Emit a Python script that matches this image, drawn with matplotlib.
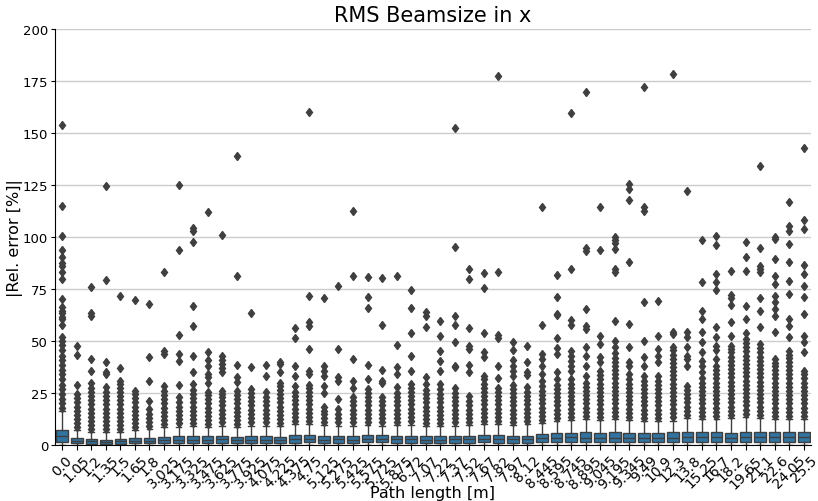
import matplotlib
matplotlib.use('Agg')
import matplotlib.pyplot as plt

# Path length categories (x axis)
categories = ['0.0', '1.05', '1.2', '1.35', '1.5', '1.65', '1.8', '3.025', '3.175',
              '3.325', '3.475', '3.625', '3.775', '3.925', '4.075', '4.225', '4.375',
              '4.75', '5.125', '5.275', '5.425', '5.575', '5.725', '5.875', '6.72',
              '7.07', '7.22', '7.37', '7.52', '7.67', '7.82', '7.97', '8.12', '8.445',
              '8.595', '8.745', '8.895', '9.045', '9.195', '9.345', '9.49', '10.9',
              '12.3', '13.8', '15.25', '16.7', '18.2', '19.65', '21.1', '22.6',
              '24.05', '25.5']

# Box statistics
whislo = [0.0, 0.0, 0.0, 0.0, 0.0, 0.0, 0.0, 0.0, 0.0, 0.0, 0.0, 0.0, 0.0,
          0.0, 0.0, 0.0, 0.0, 0.0, 0.0, 0.0, 0.0, 0.0, 0.0, 0.0, 0.0, 0.0,
          0.0, 0.0, 0.0, 0.0, 0.0, 0.0, 0.0, 0.0, 0.0, 0.0, 0.0, 0.0, 0.0,
          0.0, 0.0, 0.0, 0.0, 0.0, 0.0, 0.0, 0.0, 0.0, 0.0, 0.0, 0.0, 0.0]
q1 = [1.6, 0.8, 0.7, 0.3, 0.6, 0.8, 0.8, 0.9, 1.0, 1.0, 1.0, 1.1, 1.0,
      1.0, 1.0, 1.0, 1.1, 1.2, 1.0, 1.1, 1.0, 1.2, 1.2, 1.1, 1.1, 1.0,
      1.0, 1.1, 1.1, 1.2, 1.1, 1.1, 1.1, 1.3, 1.5, 1.5, 1.5, 1.5, 1.5,
      1.4, 1.4, 1.4, 1.5, 1.6, 1.5, 1.6, 1.4, 1.6, 1.5, 1.6, 1.5, 1.5]
med = [4.1, 2.0, 1.8, 1.5, 1.7, 2.0, 2.1, 2.4, 2.6, 2.6, 2.6, 2.8, 2.5,
       2.6, 2.6, 2.5, 2.8, 3.0, 2.6, 2.7, 2.6, 3.0, 3.1, 2.8, 2.8, 2.6,
       2.6, 2.8, 2.8, 3.0, 2.9, 2.8, 2.8, 3.2, 3.5, 3.6, 3.5, 3.4, 3.5,
       3.4, 3.3, 3.3, 3.5, 3.7, 3.6, 3.8, 3.2, 3.8, 3.6, 3.7, 3.6, 3.6]
q3 = [7.3, 3.3, 2.9, 2.5, 2.8, 3.3, 3.4, 3.8, 4.1, 4.1, 4.1, 4.5, 3.9,
      4.2, 4.2, 4.0, 4.6, 4.8, 4.3, 4.4, 4.2, 4.8, 4.9, 4.4, 4.5, 4.2,
      4.2, 4.5, 4.5, 4.8, 4.6, 4.5, 4.5, 5.2, 5.7, 5.8, 6.1, 5.7, 6.0,
      5.8, 5.6, 5.6, 6.0, 6.2, 6.1, 6.3, 5.8, 6.4, 6.1, 6.1, 6.1, 6.1]
whishi = [16.5, 7.3, 6.1, 6.0, 6.2, 7.3, 7.7, 8.5, 8.8, 9.0, 8.5, 9.3, 8.5,
          9.3, 9.3, 9.0, 10.0, 10.0, 9.6, 9.3, 9.3, 9.6, 9.3, 9.6, 9.8, 9.0,
          9.0, 9.3, 9.6, 10.0, 10.0, 9.6, 10.0, 10.6, 11.4, 12.0, 12.5, 11.8, 12.5,
          12.0, 11.4, 11.7, 11.7, 12.8, 12.5, 12.5, 12.8, 13.3, 12.8, 12.5, 12.5, 12.5]

# Outliers per category
fliers = [
    [18, 20, 22, 24.5, 27, 29, 31.5, 34, 36, 38.5, 41, 43, 45.5, 48, 50, 52, 57.7,
     60.6, 61.7, 63.3, 64.6, 66.2, 70, 79.8, 83, 86.2, 87.5, 90.2, 93.9, 100.3, 115, 154],
    [8.5, 10.5, 12.5, 14.5, 16.5, 18.5, 20.5, 22.5, 24.5, 29, 43.2, 47.4],
    [7.5, 9.5, 11.5, 13.5, 15.5, 17.5, 19.5, 21.5, 23.5, 25.5, 27.5, 30, 35.7, 41.3,
     62.2, 63.4, 76.1],
    [7.5, 9.5, 11.5, 13.5, 15.5, 17.5, 19.5, 21.5, 23.5, 25.5, 27.7, 34.1, 35, 39.7,
     79.3, 124.4],
    [7.5, 9.5, 11.5, 13.5, 15.5, 17.5, 19.5, 21.5, 23.5, 25.5, 27.5, 29.5, 31, 36.8, 71.8],
    [8.5, 10.5, 12.5, 14.5, 16.5, 18.5, 20.5, 22.5, 24.5, 26, 69.7],
    [9, 11, 13, 15, 17.5, 21.3, 31, 42.1, 67.8],
    [10, 12, 14, 16, 18, 20, 22, 24, 26, 28.5, 43.7, 45.3, 83],
    [10.5, 12.5, 14.5, 16.5, 18.5, 20.5, 23, 29, 40.5, 43.7, 52.9, 93.7, 125],
    [10.5, 12.5, 14.5, 16.5, 18.5, 20.5, 22.5, 24.5, 26.5, 29.3, 35.2, 42.6, 57.3, 67,
     97.4, 103, 104.2],
    [10, 12, 14, 16, 18, 20, 22, 24, 25.3, 29.6, 32.5, 34.1, 38.1, 41, 44.5, 112],
    [11, 13, 15, 17, 19, 21, 23, 24.5, 26.1, 35.2, 36.8, 38.9, 40.9, 42.6, 101],
    [10, 12, 14, 16, 18, 20, 22, 24, 26.1, 30.1, 32.5, 38.4, 81.4, 139],
    [11, 13, 15, 17, 19, 21, 23, 25, 26.9, 37.6, 63.4],
    [11, 13, 15, 17, 19, 21, 23, 25.3, 33.3, 38.6],
    [10.5, 12.5, 14.5, 16.5, 18.5, 20.5, 22.5, 24.5, 26.5, 28.5, 30, 35.2, 38.9, 39.7],
    [11.5, 13.5, 15.5, 17.5, 19.5, 21.5, 23.5, 25.5, 28.5, 33.3, 38.1, 51.4, 56.1],
    [11.5, 13.5, 15.5, 17.5, 19.5, 21.5, 23.5, 25.5, 27.5, 29, 34.1, 35.7, 46.1, 57.3,
     59, 71.5, 160],
    [11, 13, 15, 16.5, 18.1, 25, 28.5, 33.3, 35.7, 38.1, 70.5],
    [11, 13, 15, 17.3, 22.1, 31, 32.5, 46.1, 76.6],
    [11, 13, 15, 17, 19, 21, 22.9, 27.2, 31, 41.3, 81.4, 112.7],
    [11, 13, 15, 17, 19, 21, 23, 25, 26.9, 31.7, 38.4, 65.7, 71, 80.6],
    [11, 13, 15, 17, 19, 21, 22.9, 29.6, 31, 36.2, 57.7, 80.1],
    [11, 13, 15, 17, 19, 21, 23, 25, 27.7, 34.1, 37.3, 48, 81.4],
    [11.5, 13.5, 15.5, 17.5, 19.5, 21.5, 23.5, 25.5, 27.5, 29.5, 35.7, 42.6, 53.7,
     65.7, 74.5],
    [10.5, 12.5, 14.5, 16.5, 18.5, 20.5, 22.5, 24.5, 26.5, 29.3, 32.5, 56.6, 61.8, 63.8],
    [10.5, 12.5, 14.5, 16.5, 18.5, 20.5, 22.5, 24.5, 26.9, 29.3, 35.7, 40.5, 45.3,
     52.2, 59.8],
    [11, 13, 15, 17, 19, 21, 23, 25, 27.5, 37.6, 38.2, 49.3, 57.8, 61.8, 95.3, 152.4],
    [11, 13, 15, 17, 19, 21, 23.7, 35, 38.6, 46.1, 47.4, 56.2, 79.8, 84.6],
    [11.5, 13.5, 15.5, 17.5, 19.5, 21.5, 23.5, 25.5, 27.5, 29.5, 31.5, 33.3, 42.1,
     44.5, 53.8, 75.3, 82.7],
    [11.5, 13.5, 15.5, 17.5, 19.5, 21.5, 23.5, 25.5, 27.5, 32, 38.1, 51.4, 53, 83.3,
     177.4],
    [11, 13, 15, 17, 19, 21, 23, 25, 27, 29, 33.3, 35.7, 38.1, 41, 45.8, 49.3],
    [11.5, 13.5, 15.5, 17.5, 19.5, 21.5, 23.5, 25.5, 28, 33.6, 35, 39.7, 47.4],
    [12, 14, 16, 18, 20, 22, 24, 26, 28.5, 31, 34.1, 38.1, 41.3, 43.7, 57.7, 114.3],
    [13, 15, 17, 19, 21, 23, 25, 27, 29, 31.7, 35, 43.7, 46.5, 51.4, 62.5, 63.2,
     71.3, 81.9],
    [13.5, 15.5, 17.5, 19.5, 21.5, 23.5, 25.5, 27.5, 29.5, 31.5, 35.7, 38, 40.5, 43,
     45.3, 57.7, 60.2, 84.6, 159.6],
    [14, 16, 18, 20, 22, 24, 26, 28, 30, 33.3, 38.1, 42.9, 46.9, 55.8, 57, 65.4,
     93.4, 94.5, 169.6],
    [13.5, 15.5, 17.5, 19.5, 21.5, 23.5, 25.5, 27.5, 29.5, 31.5, 33.5, 35.5, 39.7,
     42.1, 48.5, 52.2, 93.9, 114.3],
    [14, 16, 18, 20, 22, 24, 26, 28, 30, 32, 34, 36, 38, 40, 42, 44, 47, 50, 59.8,
     83, 84.6, 94, 97, 98.7, 99.8],
    [13.5, 15.5, 17.5, 19.5, 21.5, 23.5, 25.5, 27.5, 29.5, 31.5, 34.1, 38.1, 39.7,
     46.9, 58.2, 87.8, 117.8, 122.9, 125.5],
    [13, 15, 17, 19, 21, 23, 25, 27, 29, 31, 33.3, 38.1, 42.1, 50.1, 68.6, 112.7,
     114.3, 172],
    [13, 15, 17, 19, 21, 23, 25, 27, 29, 31, 33.3, 39.7, 42.9, 46.1, 52.5, 69.4],
    [13.5, 15.5, 17.5, 19.5, 21.5, 23.5, 25.5, 27.5, 29.5, 31.5, 33.5, 35.5, 37.5,
     39.5, 41.5, 43.5, 45.5, 46.9, 53.3, 54.5, 178.4],
    [14.5, 16.5, 18.5, 20.5, 22.5, 24.5, 26.5, 28.5, 38.1, 41.3, 43, 46.9, 51.7,
     54.1, 122],
    [14, 16, 18, 20, 22, 24, 26, 28, 30, 32, 35, 38, 40.5, 44.9, 49.3, 54.1, 60.6,
     64.6, 78.2, 98.7],
    [14, 16, 18, 20, 22, 24, 26, 28, 30, 32, 34, 36, 38.1, 41.5, 45.8, 47.7, 51.7,
     56.9, 74.5, 78.2, 82.2, 96.3, 100.6],
    [14.5, 16.5, 18.5, 20.5, 22.5, 24.5, 26.5, 28.5, 30.5, 32.5, 34.5, 36.5, 38.5,
     40.5, 42.5, 44.5, 46, 47.7, 52.5, 59.3, 67.3, 70.5, 72.1, 83.8],
    [15, 17, 19, 21, 23, 25, 27, 29, 31, 33, 35, 37, 39, 41, 43, 45, 47, 49, 51,
     53.7, 60.6, 67, 83.8, 90.5, 97.4],
    [14.5, 16.5, 18.5, 20.5, 22.5, 24.5, 26.5, 28.5, 30.5, 32.5, 34.5, 36.5, 38.5,
     40.5, 42.5, 44.5, 46.5, 48.5, 56.6, 64.6, 70.5, 83, 84.6, 86.2, 94.5, 134.3],
    [14, 16, 18, 20, 22, 24, 26, 28, 30, 32, 34, 36, 38, 39.5, 41.3, 54.1, 62.2,
     65.4, 68.6, 71.8, 77.4, 81.4, 89.4, 99, 99.8],
    [14, 16, 18, 20, 22, 24, 26, 28, 30, 32, 34, 36, 38, 40, 42, 43.5, 45.3, 51.7,
     57.3, 60.6, 72.6, 79, 87.8, 96.6, 103, 105.1, 116.7],
    [14, 16, 18, 20, 22, 24, 26, 28, 30, 32, 34, 35.7, 44.5, 49.3, 52.5, 63, 71,
     76.6, 82.2, 86.5, 103.8, 108.3, 142.6],
]

yticks = [0, 25, 50, 75, 100, 125, 150, 175, 200]

# Build the box statistics for bxp
stats = []
for i, name in enumerate(categories):
    stats.append({'label': name, 'whislo': whislo[i], 'q1': q1[i], 'med': med[i],
                  'q3': q3[i], 'whishi': whishi[i], 'fliers': fliers[i]})

line_col = '#3f3f3f'
fig = plt.figure(figsize=(8.18, 5.02), dpi=100)
ax = fig.add_axes([0.0672, 0.1116, 0.9242, 0.8286])

ax.yaxis.grid(True, color='#cccccc', linewidth=1.0, zorder=0)
ax.set_axisbelow(True)

ax.bxp(stats, positions=range(len(categories)), widths=0.8, patch_artist=True,
       boxprops=dict(facecolor='#3274a1', edgecolor=line_col, linewidth=1.0),
       medianprops=dict(color=line_col, linewidth=1.0),
       whiskerprops=dict(color=line_col, linewidth=1.0),
       capprops=dict(color=line_col, linewidth=1.0),
       flierprops=dict(marker='d', markerfacecolor=line_col, markeredgecolor=line_col,
                       markersize=4.5, linestyle='none'))

ax.set_xlim(-0.5, len(categories) - 0.5)
ax.set_ylim(0, 200)
ax.set_yticks(yticks)
ax.set_xticks(range(len(categories)))
ax.set_xticklabels(categories, rotation=45, fontsize=10)
ax.tick_params(axis='y', labelsize=9.5, length=3, pad=2)
ax.tick_params(axis='x', pad=2)
for side in ['top', 'right']:
    ax.spines[side].set_visible(False)

ax.set_title('RMS Beamsize in x', fontsize=15)
ax.set_xlabel('Path length [m]', fontsize=11.5)
ax.set_ylabel('|Rel. error [%]|', fontsize=11.5)
ax.xaxis.set_label_coords(0.5, -0.097)
ax.yaxis.set_label_coords(-0.042, 0.5)

fig.savefig('out.png', dpi=100)
